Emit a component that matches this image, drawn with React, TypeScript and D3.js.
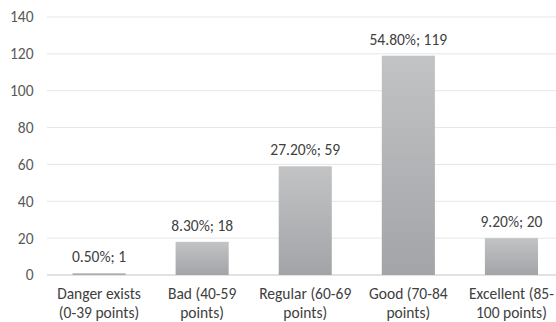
import React from "react";
import * as d3 from "d3";

const categories: string[][] = [
  ["Danger exists", "(0-39 points)"],
  ["Bad (40-59", "points)"],
  ["Regular (60-69", "points)"],
  ["Good (70-84", "points)"],
  ["Excellent (85-", "100 points)"],
];
const counts: number[] = [1, 18, 59, 119, 20];
const percents: string[] = ["0.50%", "8.30%", "27.20%", "54.80%", "9.20%"];
const yTicks: number[] = [0, 20, 40, 60, 80, 100, 120, 140];

const W = 556;
const H = 322;
const FONT = "Carlito, Lato, 'Liberation Sans', sans-serif";
const FS = 15.5;

export default function App() {
  const x = d3
    .scaleBand<number>()
    .domain(counts.map((_, i) => i))
    .range([47.5, 563])
    .paddingInner(0.485)
    .paddingOuter(0.2425);
  const y = d3.scaleLinear().domain([0, 140]).range([275, 17]);

  return (
    <svg
      width={W}
      height={H}
      style={{ position: "absolute", left: 0, top: 0, background: "#fff" }}
      fontFamily={FONT}
    >
      <defs>
        <linearGradient id="barFill" x1="0" y1="0" x2="0" y2="1">
          <stop offset="0" stopColor="#c2c3c5" />
          <stop offset="1" stopColor="#a3a4a7" />
        </linearGradient>
      </defs>
      {yTicks.map((t) => (
        <g key={t}>
          <line
            x1={47}
            x2={W}
            y1={y(t)}
            y2={y(t)}
            stroke={t === 0 ? "#d9d9d9" : "#e6e6e6"}
            strokeWidth={t === 0 ? 1.5 : 1}
          />
          <text
            x={33.5}
            y={y(t)}
            dy="0.35em"
            textAnchor="end"
            fontSize={FS}
            fill="#595959"
          >
            {t}
          </text>
        </g>
      ))}
      {counts.map((v, i) => {
        const bx = x(i)!;
        const bw = x.bandwidth();
        const top = y(v);
        const cx = bx + bw / 2;
        return (
          <g key={i}>
            <rect
              x={bx}
              y={top}
              width={bw}
              height={y(0) - top}
              fill="url(#barFill)"
            />
            <text
              x={cx}
              y={top - 11}
              textAnchor="middle"
              fontSize={FS}
              fill="#404040"
            >
              {`${percents[i]}; ${v}`}
            </text>
            <text
              x={cx}
              y={299}
              textAnchor="middle"
              fontSize={FS}
              fill="#404040"
            >
              {categories[i].map((line, j) => (
                <tspan key={j} x={cx} dy={j === 0 ? 0 : 19}>
                  {line}
                </tspan>
              ))}
            </text>
          </g>
        );
      })}
    </svg>
  );
}
